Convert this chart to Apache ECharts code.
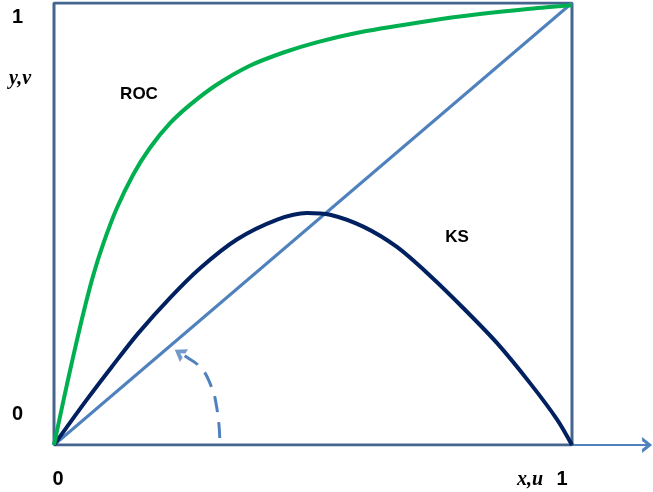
<!DOCTYPE html>
<html>
<head>
<meta charset="utf-8">
<style>
html,body{margin:0;padding:0;background:#fff;}
#chart{width:653px;height:492px;}
</style>
<script src="https://cdn.jsdelivr.net/npm/echarts@6/dist/echarts.min.js"></script>
</head>
<body>
<div id="chart"></div>
<script>
// ---- data ----
const xTickLabels = ['0', '1'];
const yTickLabels = ['0', '1'];
const xName = 'x,u';
const yName = 'y,v';
const rocLabel = 'ROC';
const ksLabel = 'KS';

const roc = [
  [0, 0], [0.02, 0.11], [0.037, 0.200], [0.057, 0.300], [0.076, 0.385],
  [0.095, 0.455], [0.121, 0.535], [0.153, 0.612], [0.185, 0.672],
  [0.224, 0.728], [0.263, 0.770], [0.314, 0.815], [0.378, 0.858],
  [0.443, 0.888], [0.507, 0.911], [0.591, 0.934], [0.726, 0.960],
  [0.822, 0.975], [0.919, 0.987], [1, 0.995]
];
const ks = [
  [0, 0], [0.063, 0.102], [0.111, 0.176], [0.162, 0.252], [0.224, 0.333],
  [0.282, 0.400], [0.353, 0.465], [0.431, 0.510], [0.488, 0.525],
  [0.533, 0.521], [0.597, 0.494], [0.662, 0.448], [0.726, 0.383],
  [0.790, 0.310], [0.855, 0.231], [0.919, 0.140], [0.971, 0.058], [1, 0]
];
const diagonal = [[0, 0], [1, 1]];
const frame = [[0, 0], [0, 1], [1, 1], [1, 0], [0, 0]];
const turnArc = [[0.320, 0.016], [0.314, 0.086], [0.301, 0.140], [0.282, 0.176], [0.256, 0.199], [0.243, 0.208]];
const turnArrow = [[0.242, 0.209]];

// ---- chart ----
const labelFont = {fontFamily: 'Liberation Sans, Arial, sans-serif', fontWeight: 'bold', fontSize: 20, color: '#000'};
const chart = echarts.init(document.getElementById('chart'), null, {renderer: 'canvas'});
chart.setOption({
  animation: false,
  backgroundColor: '#fff',
  grid: {left: 54, top: 3, right: 5.9, bottom: 47, containLabel: false},
  xAxis: {
    type: 'value', min: 0, max: 1.145, interval: 1,
    axisLine: {
      show: true, onZero: false,
      lineStyle: {color: '#4F81BD', width: 2},
      symbol: ['none', 'path://M0,10 L8,0 L16,10 L12,10 L8,5 L4,10 Z'],
      symbolSize: [16, 10]
    },
    axisTick: {show: false},
    splitLine: {show: false},
    axisLabel: {
      margin: 24,
      ...labelFont,
      formatter: function (v) {
        if (v === 0) return '{l|' + xTickLabels[0] + '}';
        if (v === 1) return '{r|' + xTickLabels[1] + '}';
        return '';
      },
      rich: {
        l: {...labelFont, padding: [0, 0, 0, 8]},
        r: {...labelFont, padding: [0, 20, 0, 0]}
      }
    }
  },
  yAxis: {
    type: 'value', min: 0, max: 1, interval: 1,
    axisLine: {show: false},
    axisTick: {show: false},
    splitLine: {show: false},
    axisLabel: {
      margin: 31,
      ...labelFont,
      formatter: function (v) {
        if (v === 0) return '{b|' + yTickLabels[0] + '}';
        if (v === 1) return '{t|' + yTickLabels[1] + '}';
        return '';
      },
      rich: {
        b: {...labelFont, padding: [0, 0, 62, 0]},
        t: {...labelFont, padding: [28, 0, 0, 0]}
      }
    }
  },
  series: [
    {
      name: 'frame', type: 'line', data: frame, symbol: 'none', z: 1,
      lineStyle: {color: '#45658F', width: 3}
    },
    {
      name: 'diagonal', type: 'line', data: diagonal, symbol: 'none', z: 2,
      lineStyle: {color: '#4F81BD', width: 3}
    },
    {
      name: 'KS', type: 'line', data: ks, symbol: 'none', smooth: 0.3, z: 3,
      lineStyle: {color: '#002060', width: 4}
    },
    {
      name: 'ROC', type: 'line', data: roc, symbol: 'none', smooth: 0.3, z: 4,
      lineStyle: {color: '#00B050', width: 4}
    },
    {
      name: 'turn', type: 'line', data: turnArc, symbol: 'none', smooth: 0.5, z: 3,
      lineStyle: {color: '#4F81BD', width: 3, type: [16, 10]}
    },
    {
      name: 'turnArrow', type: 'scatter', data: turnArrow, z: 3,
      symbol: 'path://M0,10 L6,0 L12,10 L8,10 L6,6 L4,10 Z',
      symbolSize: [15, 11], symbolRotate: 57,
      itemStyle: {color: '#4F81BD'}
    }
  ],
  graphic: [
    {type: 'text', x: 20, y: 79, style: {text: yName, fontFamily: 'Liberation Serif, Times New Roman, serif', fontStyle: 'italic', fontWeight: 'bold', fontSize: 20, fill: '#000', textAlign: 'center', textVerticalAlign: 'middle'}},
    {type: 'text', x: 530, y: 480, style: {text: xName, fontFamily: 'Liberation Serif, Times New Roman, serif', fontStyle: 'italic', fontWeight: 'bold', fontSize: 20, fill: '#000', textAlign: 'center', textVerticalAlign: 'middle'}},
    {type: 'text', x: 139, y: 94, style: {text: rocLabel, fontFamily: 'Liberation Sans, Arial, sans-serif', fontWeight: 'bold', fontSize: 17, fill: '#000', textAlign: 'center', textVerticalAlign: 'middle'}},
    {type: 'text', x: 457, y: 237, style: {text: ksLabel, fontFamily: 'Liberation Sans, Arial, sans-serif', fontWeight: 'bold', fontSize: 17, fill: '#000', textAlign: 'center', textVerticalAlign: 'middle'}}
  ]
});
</script>
</body>
</html>
